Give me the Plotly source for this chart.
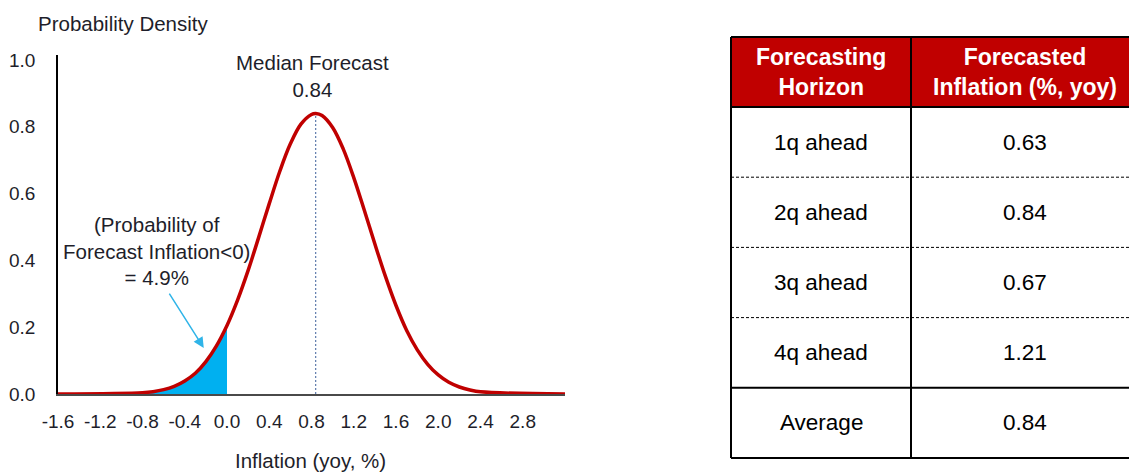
import plotly.graph_objects as go

# ---- data -------------------------------------------------------------
median_forecast = 0.84
prob_below_zero = 4.9  # %

# density curve of forecast inflation (x: inflation %, y: probability density)
curve_x = [-1.6, -0.8, -0.7, -0.6, -0.5, -0.4, -0.3, -0.2, -0.1, 0.0,
           0.1, 0.2, 0.3, 0.4, 0.5, 0.6, 0.7, 0.8, 0.84, 0.9, 1.0,
           1.1, 1.2, 1.3, 1.4, 1.5, 1.6, 1.7, 1.8, 1.9, 2.0,
           2.1, 2.2, 2.3, 2.4, 3.2]
curve_y = [0.0, 0.004, 0.007, 0.013, 0.023, 0.039, 0.062, 0.097, 0.144, 0.205,
           0.281, 0.370, 0.469, 0.570, 0.667, 0.749, 0.808, 0.837, 0.84, 0.834, 0.798,
           0.734, 0.648, 0.550, 0.449, 0.352, 0.265, 0.191, 0.133, 0.089, 0.057,
           0.035, 0.021, 0.012, 0.0065, 0.0]

x_ticks = [-1.6, -1.2, -0.8, -0.4, 0.0, 0.4, 0.8, 1.2, 1.6, 2.0, 2.4, 2.8]
y_ticks = [0.0, 0.2, 0.4, 0.6, 0.8, 1.0]

table_header = ["Forecasting<br>Horizon", "Forecasted<br>Inflation (%, yoy)"]
horizons = ["1q ahead", "2q ahead", "3q ahead", "4q ahead", "Average"]
forecasts = [0.63, 0.84, 0.67, 1.21, 0.84]

# ---- layout helpers ---------------------------------------------------
W, H = 1129, 472
FONT = "Arial, Liberation Sans, sans-serif"
TXT = "#1e1e2a"
RED = "#C00000"


def px(p):
    return p / W


def py(p):
    return 1 - p / H


fig = go.Figure()

# shaded region: inflation below zero
shade_x = [x for x in curve_x if -0.8 <= x <= 0.0]
shade_y = [y for x, y in zip(curve_x, curve_y) if -0.8 <= x <= 0.0]
fig.add_trace(go.Scatter(x=shade_x, y=shade_y, mode="lines", fill="tozeroy",
                         fillcolor="#00B0F0", line=dict(width=0, color="#00B0F0"),
                         hoverinfo="skip", showlegend=False))

# median forecast marker line
fig.add_trace(go.Scatter(x=[median_forecast, median_forecast], y=[0, max(curve_y)],
                         mode="lines", line=dict(color="#3d5f9a", width=1, dash="2px,2px"),
                         hoverinfo="skip", showlegend=False))

# density curve
fig.add_trace(go.Scatter(x=curve_x, y=curve_y, mode="lines", line_shape="spline",
                         line=dict(color=RED, width=3.5), showlegend=False))

fig.update_xaxes(domain=[px(58), px(565)], range=[-1.6, 3.2], automargin=False,
                 tickvals=x_ticks, ticktext=[f"{v:.1f}" for v in x_ticks],
                 showgrid=False, zeroline=False, showline=True,
                 linecolor="#4a4a4a", linewidth=2,
                 ticks="", ticklabelstandoff=9,
                 tickfont=dict(family=FONT, size=19, color=TXT))
fig.update_yaxes(domain=[py(394), py(55)], range=[0, 1.015], automargin=False,
                 tickvals=y_ticks, ticktext=[f"{v:.1f}" for v in y_ticks],
                 showgrid=False, zeroline=False, showline=True,
                 linecolor="#000000", linewidth=1.5,
                 ticks="", ticklabelstandoff=17,
                 tickfont=dict(family=FONT, size=19, color=TXT))

annotations = [
    dict(text="Probability Density", x=px(36), y=py(24), xref="paper", yref="paper",
         xanchor="left", yanchor="middle", showarrow=False,
         font=dict(family=FONT, size=20.5, color=TXT)),
    dict(text=f"Median Forecast<br>{median_forecast:.2f}", x=px(312), y=py(76),
         xref="paper", yref="paper", xanchor="center", yanchor="middle",
         showarrow=False, font=dict(family=FONT, size=20.5, color=TXT)),
    dict(text="Inflation (yoy, %)", x=px(310), y=py(460), xref="paper", yref="paper",
         xanchor="center", yanchor="middle", showarrow=False,
         font=dict(family=FONT, size=20.5, color=TXT)),
    dict(text=f"(Probability of<br>Forecast Inflation&lt;0)<br>= {prob_below_zero}%",
         x=px(156), y=py(251), xref="paper", yref="paper",
         xanchor="center", yanchor="middle", showarrow=False,
         font=dict(family=FONT, size=20.5, color=TXT)),
    # arrow pointing into the shaded tail
    dict(text="", x=-0.22, y=0.138, xref="x", yref="y",
         ax=-0.555, ay=0.305, axref="x", ayref="y",
         showarrow=True, arrowhead=2, arrowsize=1.4, arrowwidth=1.5,
         arrowcolor="#2fb4e8"),
]

# ---- forecast table ---------------------------------------------------
T_LEFT, T_DIV, T_RIGHT = 731, 911, 1140
T_TOP, T_HEAD = 37, 107
row_h = (458 - T_HEAD) / len(horizons)
row_edges = [T_HEAD + row_h * i for i in range(len(horizons) + 1)]

shapes = [
    dict(type="rect", xref="paper", yref="paper",
         x0=px(T_LEFT), x1=px(T_RIGHT), y0=py(T_HEAD), y1=py(T_TOP),
         fillcolor=RED, line=dict(width=0), layer="below"),
    dict(type="line", xref="paper", yref="paper",
         x0=px(T_LEFT), x1=px(T_RIGHT), y0=py(T_TOP), y1=py(T_TOP),
         line=dict(color="black", width=2)),
    dict(type="line", xref="paper", yref="paper",
         x0=px(T_LEFT), x1=px(T_RIGHT), y0=py(T_HEAD), y1=py(T_HEAD),
         line=dict(color="black", width=2)),
    dict(type="line", xref="paper", yref="paper",
         x0=px(T_LEFT), x1=px(T_LEFT), y0=py(T_TOP), y1=py(row_edges[-1]),
         line=dict(color="black", width=2)),
    dict(type="line", xref="paper", yref="paper",
         x0=px(T_DIV), x1=px(T_DIV), y0=py(T_TOP), y1=py(row_edges[-1]),
         line=dict(color="black", width=2)),
]
for i, edge in enumerate(row_edges[1:], start=1):
    solid = i >= len(horizons) - 1
    shapes.append(dict(type="line", xref="paper", yref="paper",
                       x0=px(T_LEFT), x1=px(T_RIGHT), y0=py(edge), y1=py(edge),
                       line=dict(color="black", width=2 if solid else 1,
                                 dash="solid" if solid else "3px,2px")))

col_centers = [(T_LEFT + T_DIV) / 2, 1025]
for cx, head in zip(col_centers, table_header):
    annotations.append(dict(text=f"<b>{head}</b>", x=px(cx), y=py((T_TOP + T_HEAD) / 2),
                            xref="paper", yref="paper", xanchor="center", yanchor="middle",
                            showarrow=False,
                            font=dict(family=FONT, size=23, color="white")))
for i, (hz, val) in enumerate(zip(horizons, forecasts)):
    cy = (row_edges[i] + row_edges[i + 1]) / 2
    annotations.append(dict(text=hz, x=px(col_centers[0]), y=py(cy), xref="paper",
                            yref="paper", xanchor="center", yanchor="middle",
                            showarrow=False, font=dict(family=FONT, size=22.5, color="black")))
    annotations.append(dict(text=f"{val:.2f}", x=px(col_centers[1]), y=py(cy), xref="paper",
                            yref="paper", xanchor="center", yanchor="middle",
                            showarrow=False, font=dict(family=FONT, size=22.5, color="black")))

fig.update_layout(width=W, height=H, margin=dict(l=0, r=0, t=0, b=0),
                  paper_bgcolor="white", plot_bgcolor="white",
                  annotations=annotations, shapes=shapes, showlegend=False)

fig.write_html("out.html")
